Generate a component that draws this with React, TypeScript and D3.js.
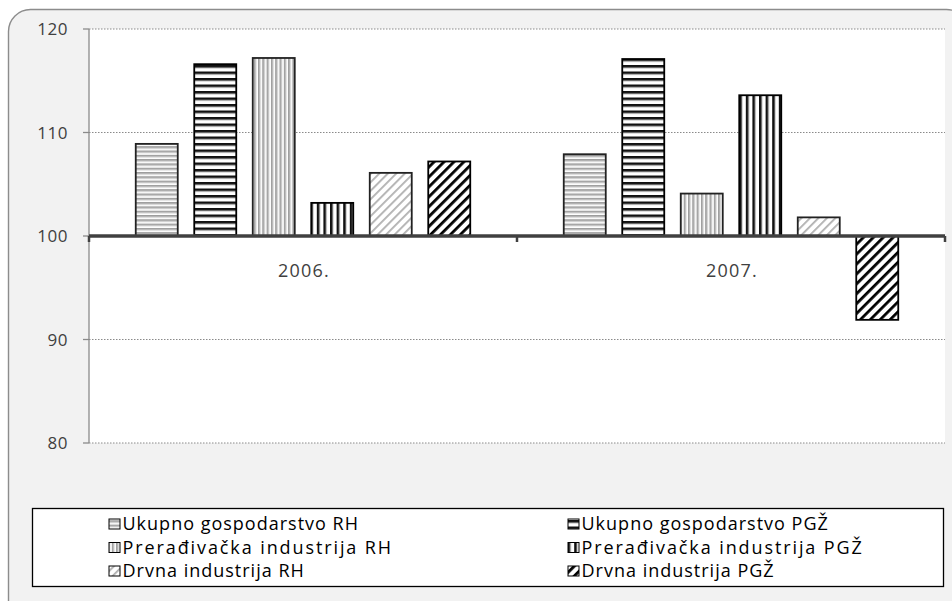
import React from "react";
import * as d3 from "d3";

const categories = ["2006.", "2007."];
const seriesNames = [
  "Ukupno gospodarstvo RH",
  "Ukupno gospodarstvo PGŽ",
  "Prerađivačka industrija RH",
  "Prerađivačka industrija PGŽ",
  "Drvna industrija RH",
  "Drvna industrija PGŽ",
];
const values2006 = [108.9, 116.6, 117.2, 103.2, 106.1, 107.2];
const values2007 = [107.9, 117.1, 104.1, 113.6, 101.8, 91.9];
const yTicks = [80, 90, 100, 110, 120];
const patternIds = ["hGray", "hBlack", "vGray", "vBlack", "dGray", "dBlack"];

const W = 952;
const H = 601;
const plot = { left: 89, right: 945, top: 29, bottom: 443 };
const FONT = "'Open Sans', 'DejaVu Sans', sans-serif";

export default function App() {
  const y = d3.scaleLinear().domain([80, 120]).range([plot.bottom, plot.top]);
  const x = d3.scaleBand().domain(categories).range([plot.left, plot.right]).padding(0);
  const step = 58.5;
  const barW = 42;
  const data = [values2006, values2007];
  const base = y(100);

  const legendRows = [
    [0, 1],
    [2, 3],
    [4, 5],
  ];
  const rowSpacing = [1.0, 1.9, 1.0];

  return (
    <div style={{ position: "absolute", left: 0, top: 0 }}>
      <svg width={W} height={H} style={{ display: "block" }}>
        <defs>
          <pattern id="hGray" patternUnits="userSpaceOnUse" width={8} height={4.3}>
            <rect width={8} height={4.3} fill="#ffffff" />
            <rect y={0} width={8} height={1.6} fill="#9c9c9c" />
            <rect y={1.6} width={8} height={1.2} fill="#cfcfcf" />
          </pattern>
          <pattern id="hBlack" patternUnits="userSpaceOnUse" width={8} height={6.5}>
            <rect width={8} height={6.5} fill="#ffffff" />
            <rect y={0} width={8} height={2.6} fill="#111111" />
            <rect y={2.6} width={8} height={0.6} fill="#999" />
          </pattern>
          <pattern id="vGray" patternUnits="userSpaceOnUse" width={4.3} height={8}>
            <rect width={4.3} height={8} fill="#ffffff" />
            <rect x={0} width={1.6} height={8} fill="#9c9c9c" />
            <rect x={1.6} width={1.2} height={8} fill="#cfcfcf" />
          </pattern>
          <pattern id="vBlack" patternUnits="userSpaceOnUse" width={6.6} height={8}>
            <rect width={6.6} height={8} fill="#ffffff" />
            <rect x={0} width={2.6} height={8} fill="#111111" />
            <rect x={2.6} width={0.6} height={8} fill="#999" />
          </pattern>
          <pattern id="dGray" patternUnits="userSpaceOnUse" width={6} height={6} patternTransform="rotate(45)">
            <rect width={6} height={6} fill="#ffffff" />
            <rect x={0} width={1.8} height={6} fill="#b0b0b0" />
          </pattern>
          <pattern id="dBlack" patternUnits="userSpaceOnUse" width={7} height={7} patternTransform="rotate(45)">
            <rect width={7} height={7} fill="#ffffff" />
            <rect x={0} width={2.8} height={7} fill="#000000" />
          </pattern>
        </defs>

        {/* outer background */}
        <rect x={8.5} y={9.5} width={960} height={620} rx={22} ry={22} fill="#f2f2f2" stroke="#8c8c8c" strokeWidth={1.4} />

        {/* plot area */}
        <rect x={plot.left} y={plot.top} width={plot.right - plot.left} height={plot.bottom - plot.top} fill="#ffffff" />

        {/* gridlines */}
        {yTicks.map((t) => (
          <line
            key={"g" + t}
            x1={plot.left}
            x2={plot.right}
            y1={y(t)}
            y2={y(t)}
            stroke="#8a8a8a"
            strokeWidth={1}
            strokeDasharray="1.5,1.5"
          />
        ))}

        {/* y axis */}
        <line x1={plot.left} x2={plot.left} y1={plot.top} y2={plot.bottom} stroke="#8a8a8a" strokeWidth={1.3} />
        {yTicks.map((t) => (
          <g key={"t" + t}>
            <line x1={plot.left - 6} x2={plot.left} y1={y(t)} y2={y(t)} stroke="#8a8a8a" strokeWidth={1.3} />
            <text
              x={68}
              y={y(t)}
              dy="0.36em"
              textAnchor="end"
              fontFamily={FONT}
              fontSize={17}
              letterSpacing={0.5}
              fill="#404040"
            >
              {t}
            </text>
          </g>
        ))}

        {/* bars */}
        {categories.map((c, ci) => {
          const center = (x(c) as number) + x.bandwidth() / 2;
          return data[ci].map((v, si) => {
            const cx = center + (si - 2.5) * step;
            const top = Math.min(y(v), base);
            const h = Math.abs(y(v) - base);
            const strong = si % 2 === 1;
            return (
              <rect
                key={c + si}
                x={cx - barW / 2}
                y={top}
                width={barW}
                height={h}
                fill={`url(#${patternIds[si]})`}
                stroke={strong ? "#000" : "#222"}
                strokeWidth={1.8}
              />
            );
          });
        })}

        {/* x axis */}
        <line x1={plot.left} x2={plot.right} y1={base} y2={base} stroke="#404040" strokeWidth={3.5} />
        {[plot.left, (plot.left + plot.right) / 2, plot.right].map((tx, i) => (
          <line key={"xt" + i} x1={tx} x2={tx} y1={base} y2={base + 6} stroke="#404040" strokeWidth={2.5} />
        ))}
        {categories.map((c) => (
          <text
            key={"xl" + c}
            x={(x(c) as number) + x.bandwidth() / 2 + 1}
            y={277}
            textAnchor="middle"
            fontFamily={FONT}
            fontSize={18}
            letterSpacing={1.2}
            fill="#404040"
          >
            {c}
          </text>
        ))}

        {/* legend */}
        <rect x={32.5} y={508.5} width={911} height={78} fill="#ffffff" stroke="#000" strokeWidth={1.3} />
        {legendRows.map((row, ri) =>
          row.map((si, col) => {
            const mx = col === 0 ? 109 : 568;
            const cy = 524 + ri * 23.5;
            return (
              <g key={"lg" + si}>
                <rect
                  x={mx}
                  y={cy - 5}
                  width={11}
                  height={10}
                  fill={`url(#${patternIds[si]})`}
                  stroke="#000"
                  strokeWidth={1}
                />
                <text
                  x={mx + 13.5}
                  y={cy}
                  dy="0.36em"
                  fontFamily={FONT}
                  fontSize={18}
                  fill="#000"
                  letterSpacing={rowSpacing[ri]}
                >
                  {seriesNames[si]}
                </text>
              </g>
            );
          })
        )}
      </svg>
    </div>
  );
}
